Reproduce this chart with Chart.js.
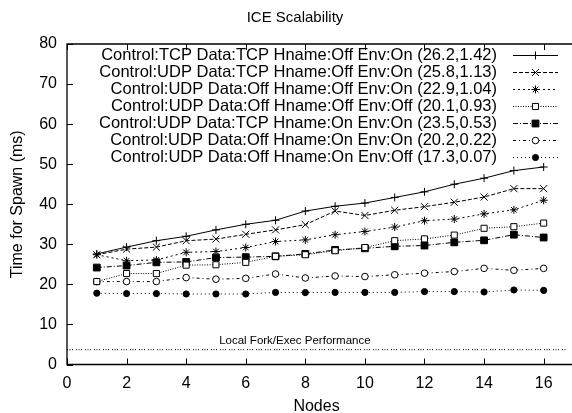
<!DOCTYPE html>
<html><head><meta charset="utf-8">
<script src="https://cdn.jsdelivr.net/npm/chart.js@4.4.0/dist/chart.umd.min.js"></script>
<style>html,body{margin:0;padding:0;background:#fff}#w{width:572px;height:413px}</style>
</head><body><div id="w"><canvas id="c" width="572" height="413"></canvas></div>
<script>
const nodes = [1,2,3,4,5,6,7,8,9,10,11,12,13,14,15,16];
const xTicks = [0,2,4,6,8,10,12,14,16];
const yTicks = [0,10,20,30,40,50,60,70,80];
const seriesLabels = [
  "Control:TCP Data:TCP Hname:Off Env:On (26.2,1.42)",
  "Control:UDP Data:TCP Hname:Off Env:On (25.8,1.13)",
  "Control:UDP Data:Off Hname:Off Env:On (22.9,1.04)",
  "Control:UDP Data:Off Hname:Off Env:Off (20.1,0.93)",
  "Control:UDP Data:TCP Hname:On Env:On (23.5,0.53)",
  "Control:UDP Data:Off Hname:On Env:On (20.2,0.22)",
  "Control:UDP Data:Off Hname:On Env:Off (17.3,0.07)"
];
const tcpTcpOffOn   = [27.6,29.3,30.9,32.0,33.6,35.0,36.0,38.3,39.5,40.3,41.7,43.1,45.0,46.5,48.4,49.3];
const udpTcpOffOn   = [27.4,28.8,29.3,30.9,31.3,32.5,33.6,34.9,38.3,37.2,38.5,39.4,40.5,41.8,43.9,43.9];
const udpOffOffOn   = [27.4,25.9,26.1,28.0,28.2,29.2,30.7,31.1,32.4,33.2,34.3,35.9,36.3,37.6,38.6,41.0];
const udpOffOffOff  = [20.7,22.7,22.7,24.8,24.9,25.5,27.0,27.4,28.4,29.2,30.9,31.35,32.3,34.0,34.4,35.3];
const udpTcpOnOn    = [24.2,24.7,25.5,25.6,26.7,26.8,27.0,27.6,28.6,29.0,29.5,29.7,30.5,31.0,32.4,31.7];
const udpOffOnOn    = [20.7,20.7,20.7,21.7,21.3,21.5,22.6,21.6,22.1,21.95,22.4,22.8,23.2,24.0,23.5,24.0];
const udpOffOnOff   = [17.8,17.7,17.7,17.6,17.6,17.6,18.0,17.95,18.0,18.0,18.0,18.2,18.2,18.1,18.6,18.5];
const forkExecMs = 3.7;
const forkLabel = "Local Fork/Exec Performance";
const forkLabelAtX = 7.65;
const xMin = 0, xMax = 16.75, yMin = 0, yMax = 80;

const allSeries = [tcpTcpOffOn, udpTcpOffOn, udpOffOffOn, udpOffOffOff, udpTcpOnOn, udpOffOnOn, udpOffOnOff];
const styles = [
  {dash: [], ps: 'cross', fill: false, r: 4},
  {dash: [4,2], ps: 'crossRot', fill: false, r: 5},
  {dash: [2,3], ps: 'star', fill: false, r: 4},
  {dash: [1,1.5], ps: 'rect', fill: false, r: 4.3},
  {dash: [5,2,1,2], ps: 'rect', fill: true, r: 4.8},
  {dash: [3,3,1,3], ps: 'circle', fill: false, r: 3.3},
  {dash: [1,3], ps: 'circle', fill: true, r: 3.1}
];
const FONT = 'Liberation Sans, Arial, Helvetica, sans-serif';

const datasets = allSeries.map((s, k) => ({
  label: seriesLabels[k],
  data: nodes.map((x, i) => ({x: x, y: s[i]})),
  borderColor: '#000', borderWidth: 1, borderDash: styles[k].dash,
  pointStyle: styles[k].ps, pointRadius: styles[k].r,
  pointBorderColor: '#000', pointBorderWidth: 1,
  pointBackgroundColor: styles[k].fill ? '#000' : '#fff',
  tension: 0, fill: false
}));
datasets.push({
  label: forkLabel, isFork: true,
  data: [{x: xMin, y: forkExecMs}, {x: xMax, y: forkExecMs}],
  borderColor: '#000', borderWidth: 1, borderDash: [1,1.5,1,1.5,1,3],
  pointRadius: 0, tension: 0, fill: false
});

const decor = {
  id: 'decor',
  afterDatasetsDraw(chart) {
    const ctx = chart.ctx, a = chart.chartArea;
    const xs = chart.scales.x, ys = chart.scales.y;
    ctx.save();
    ctx.strokeStyle = '#000'; ctx.lineWidth = 1.3; ctx.setLineDash([]);
    ctx.beginPath();
    ctx.moveTo(572.5, a.top); ctx.lineTo(a.left, a.top); ctx.lineTo(a.left, a.bottom); ctx.lineTo(572.5, a.bottom);
    ctx.stroke();
    ctx.lineWidth = 1;
    ctx.beginPath();
    xTicks.forEach(v => {
      const p = Math.round(xs.getPixelForValue(v)) + 0.5;
      ctx.moveTo(p, a.bottom); ctx.lineTo(p, a.bottom - 6);
      ctx.moveTo(p, a.top); ctx.lineTo(p, a.top + 6);
    });
    yTicks.forEach(v => {
      const p = Math.round(ys.getPixelForValue(v)) + 0.5;
      ctx.moveTo(a.left, p); ctx.lineTo(a.left + 6, p);
    });
    ctx.stroke();
    ctx.fillStyle = '#000';
    ctx.font = '11.5px ' + FONT;
    ctx.textAlign = 'center'; ctx.textBaseline = 'middle';
    ctx.fillText(forkLabel, xs.getPixelForValue(forkLabelAtX), ys.getPixelForValue(forkExecMs) - 9);
    ctx.font = '15px ' + FONT;
    ctx.fillText('ICE Scalability', 295, 18);
    ctx.font = '16.5px ' + FONT;
    ctx.textAlign = 'right';
    chart.data.datasets.forEach((d, i) => {
      if (d.isFork) return;
      const y = 55 + 17 * i;
      ctx.fillStyle = '#000';
      ctx.fillText(d.label, 497, y);
      ctx.beginPath();
      ctx.setLineDash(d.borderDash); ctx.lineWidth = 1; ctx.strokeStyle = '#000';
      ctx.moveTo(513, y + 0.5); ctx.lineTo(558, y + 0.5); ctx.stroke();
      ctx.setLineDash([]);
      ctx.fillStyle = d.pointBackgroundColor; ctx.strokeStyle = '#000'; ctx.lineWidth = 1;
      Chart.helpers.drawPoint(ctx, {pointStyle: d.pointStyle, radius: d.pointRadius, rotation: 0, borderWidth: 1}, 535.5, y + 0.5);
    });
    ctx.restore();
  }
};

new Chart(document.getElementById('c'), {
  type: 'line',
  data: {datasets: datasets},
  options: {
    responsive: false, animation: false, devicePixelRatio: 1,
    layout: {padding: {top: 44, left: 0, right: 0, bottom: 0}},
    plugins: {legend: {display: false}, title: {display: false}, tooltip: {enabled: false}},
    scales: {
      x: {
        type: 'linear', min: xMin, max: xMax,
        afterBuildTicks: s => { s.ticks = xTicks.map(v => ({value: v})); },
        afterFit: s => { s.height = 48.5; },
        grid: {display: false, drawTicks: false}, border: {display: false},
        ticks: {color: '#000', font: {family: FONT, size: 16}, padding: 9, maxRotation: 0, autoSkip: false},
        title: {display: true, text: 'Nodes', color: '#000', font: {family: FONT, size: 16}, padding: {top: 0, bottom: -3}}
      },
      y: {
        type: 'linear', min: yMin, max: yMax,
        afterBuildTicks: s => { s.ticks = yTicks.map(v => ({value: v})); },
        afterFit: s => { s.width = 67; },
        grid: {display: false, drawTicks: false}, border: {display: false},
        ticks: {color: '#000', font: {family: FONT, size: 16}, padding: 10},
        title: {display: true, text: 'Time for Spawn (ms)', color: '#000', font: {family: FONT, size: 16}, padding: {top: 8, bottom: 0}}
      }
    }
  },
  plugins: [decor]
});
</script>
</body></html>
